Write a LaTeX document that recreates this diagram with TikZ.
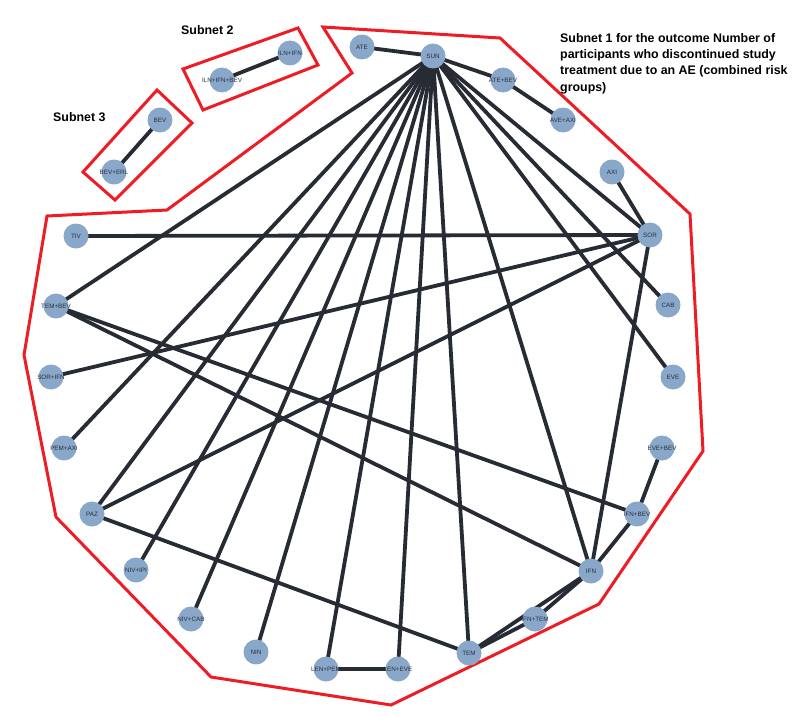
\documentclass[tikz,border=0pt]{standalone}
\usepackage{fontspec}
\setmainfont{Liberation Sans}
\usetikzlibrary{backgrounds}
\definecolor{nodefill}{HTML}{88A7C9}
\definecolor{edgecol}{HTML}{272B34}
\definecolor{hullred}{HTML}{EE1C25}
\definecolor{labcol}{HTML}{2A2E3A}
\newcommand{\zw}[1]{\makebox[0pt][c]{#1}}
\tikzset{
  trt/.style={circle,fill=nodefill,minimum size=25pt,inner sep=0pt,font=\fontsize{6.3}{7}\selectfont,text=labcol},
  link/.style={draw=edgecol,line width=3.8pt},
  hull/.style={draw=hullred,line width=3pt,line join=miter},
  title/.style={font=\bfseries\fontsize{12.4}{16.3}\selectfont,align=left,anchor=north west,inner sep=0pt}
}
\begin{document}
\begin{tikzpicture}[x=1pt,y=-1pt]
\useasboundingbox (0,0) rectangle (795,717);
% hulls
\draw[hull] (167,210) -- (352,73) -- (323,27) -- (500,38) -- (690,214) -- (703,451) -- (599,604) -- (391,705) -- (211,677) -- (56,517) -- (24,355) -- (47,216) -- cycle;
\draw[hull] (183,69) -- (298,28) -- (318,65) -- (203,110) -- cycle;
\draw[hull] (83,172) -- (157,90) -- (192,123) -- (115,200) -- cycle;
% titles
\node[title] (t2) at (181,25) {Subnet 2};
\node[title] (t3) at (53,112) {Subnet 3};
\node[title] (t1) at (560,33) {Subnet 1 for the outcome Number of\\participants who discontinued study\\treatment due to an AE (combined risk\\groups)};
% nodes
\node[trt] (ATE) at (362,47) {\zw{ATE}};
\node[trt] (SUN) at (433,56) {\zw{SUN}};
\node[trt] (ATEBEV) at (503,80) {\zw{ATE+BEV}};
\node[trt] (AVEAXI) at (563,120) {\zw{AVE+AXI}};
\node[trt] (AXI) at (612,172) {\zw{AXI}};
\node[trt] (SOR) at (650,235) {\zw{SOR}};
\node[trt] (CAB) at (668,305) {\zw{CAB}};
\node[trt] (EVE) at (673,377) {\zw{EVE}};
\node[trt] (EVEBEV) at (662,448) {\zw{EVE+BEV}};
\node[trt] (IFNBEV) at (637,514) {\zw{IFN+BEV}};
\node[trt] (IFN) at (591,571) {\zw{IFN}};
\node[trt] (IFNTEM) at (535,619) {\zw{IFN+TEM}};
\node[trt] (TEM) at (469,653) {\zw{TEM}};
\node[trt] (LENEVE) at (398,669) {\zw{LEN+EVE}};
\node[trt] (LENPEM) at (326,669) {\zw{LEN+PEM}};
\node[trt] (NIN) at (256,652) {\zw{NIN}};
\node[trt] (NIVCAB) at (191,619) {\zw{NIV+CAB}};
\node[trt] (NIVIPI) at (136,570) {\zw{NIV+IPI}};
\node[trt] (PAZ) at (92,514) {\zw{PAZ}};
\node[trt] (PEMAXI) at (64,448) {\zw{PEM+AXI}};
\node[trt] (SORIFN) at (51,377) {\zw{SOR+IFN}};
\node[trt] (TEMBEV) at (56,306) {\zw{TEM+BEV}};
\node[trt] (TIV) at (76,236) {\zw{TIV}};
\node[trt] (BEV) at (160,120) {\zw{BEV}};
\node[trt] (BEVERL) at (114,172) {\zw{BEV+ERL}};
\node[trt] (ILNIFN) at (290,53) {\zw{ILN+IFN}};
\node[trt] (ILNIFNBEV) at (222,80) {\zw{ILN+IFN+BEV}};
% edges
\begin{scope}[on background layer]
\foreach \t in {ATE,ATEBEV,TEMBEV,PEMAXI,PAZ,NIVIPI,NIVCAB,NIN,LENPEM,LENEVE,TEM,IFN,EVE,CAB,SOR}
  \draw[link] (SUN.center) -- (\t.center);
\foreach \t in {TIV,SORIFN,PAZ,IFN,AXI}
  \draw[link] (SOR.center) -- (\t.center);
\draw[link] (ATEBEV.center) -- (AVEAXI.center);
\draw[link] (TEMBEV.center) -- (IFNBEV.center);
\draw[link] (TEMBEV.center) -- (IFN.center);
\draw[link] (PAZ.center) -- (TEM.center);
\draw[link] (IFNBEV.center) -- (EVEBEV.center);
\draw[link] (IFNBEV.center) -- (IFN.center);
\draw[link] (IFN.center) -- (IFNTEM.center);
\draw[link] (IFN.center) -- (TEM.center);
\draw[link] (IFNTEM.center) -- (TEM.center);
\draw[link] (LENPEM.center) -- (LENEVE.center);
\draw[link] (BEV.center) -- (BEVERL.center);
\draw[link] (ILNIFN.center) -- (ILNIFNBEV.center);
\end{scope}
\end{tikzpicture}
\end{document}
